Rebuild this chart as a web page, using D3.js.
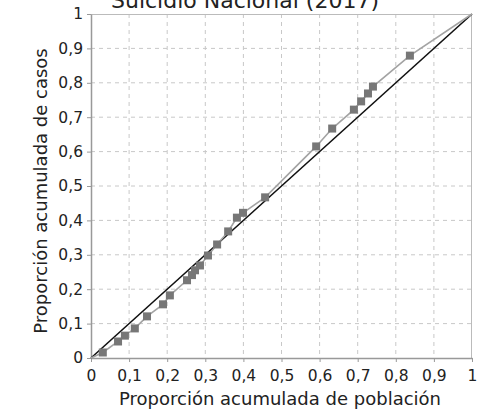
<!DOCTYPE html>
<html>
<head>
<meta charset="utf-8">
<script src="https://d3js.org/d3.v7.min.js"></script>
<style>
  body { margin: 0; background: #fff; }
  svg text { font-family: "DejaVu Sans", Verdana, sans-serif; fill: #222; }
</style>
</head>
<body>
<script>
// cumulative proportion of population (x) and of cases (y)
var popCum  = [0, 0.031, 0.071, 0.089, 0.115, 0.147, 0.189, 0.207, 0.252, 0.265, 0.273, 0.286, 0.307, 0.331, 0.360, 0.383, 0.399, 0.457, 0.591, 0.633, 0.690, 0.709, 0.727, 0.740, 0.837, 1];
var caseCum = [0, 0.016, 0.048, 0.065, 0.086, 0.121, 0.156, 0.182, 0.226, 0.241, 0.255, 0.269, 0.298, 0.330, 0.368, 0.408, 0.422, 0.467, 0.615, 0.667, 0.722, 0.746, 0.769, 0.789, 0.879, 1];
var tickVals = [0, 0.1, 0.2, 0.3, 0.4, 0.5, 0.6, 0.7, 0.8, 0.9, 1];
var titleText = "Suicidio Nacional (2017)";

var W = 488, H = 413;
var margin = { top: 14, right: 16, bottom: 55, left: 91 };
var width = W - margin.left - margin.right,
    height = H - margin.top - margin.bottom;

var svg = d3.select("body").append("svg")
  .attr("width", W).attr("height", H);

var x = d3.scaleLinear().domain([0, 1]).range([0, width]);
var y = d3.scaleLinear().domain([0, 1]).range([height, 0]);

var fmt = function(d){ return d3.format("~g")(d).replace(".", ","); };

var g = svg.append("g")
  .attr("transform", "translate(" + margin.left + "," + margin.top + ")");

// grid
g.append("g").selectAll("line").data(tickVals.slice(1, -1)).enter().append("line")
  .attr("x1", function(d){ return x(d); }).attr("x2", function(d){ return x(d); })
  .attr("y1", 0).attr("y2", height)
  .attr("stroke", "#c8c8c8").attr("stroke-dasharray", "4,4");
g.append("g").selectAll("line").data(tickVals.slice(1, -1)).enter().append("line")
  .attr("y1", function(d){ return y(d); }).attr("y2", function(d){ return y(d); })
  .attr("x1", 0).attr("x2", width)
  .attr("stroke", "#c8c8c8").attr("stroke-dasharray", "4,4");

// frame (top / right)
g.append("path")
  .attr("d", "M0,0.5H" + (width - 0.5) + "V" + height)
  .attr("fill", "none").attr("stroke", "#bbb");

// axes
var xAxis = g.append("g")
  .attr("transform", "translate(0," + height + ")")
  .call(d3.axisBottom(x).tickValues(tickVals).tickFormat(fmt).tickSize(4).tickSizeOuter(0));
var yAxis = g.append("g")
  .call(d3.axisLeft(y).tickValues(tickVals).tickFormat(fmt).tickSize(4).tickSizeOuter(0));
[xAxis, yAxis].forEach(function(a){
  a.attr("font-size", null);
  a.select(".domain").attr("stroke", "#999").attr("stroke-width", 1.5);
  a.selectAll(".tick line").attr("stroke", "#999");
  a.selectAll(".tick text").style("font-size", "15.5px").attr("fill", "#222")
    .attr("font-family", "DejaVu Sans, sans-serif");
});
xAxis.selectAll(".tick text").attr("y", 8).attr("dy", "0.95em");
yAxis.selectAll(".tick text").attr("x", -8);

// equality line
g.append("line")
  .attr("x1", x(0)).attr("y1", y(0)).attr("x2", x(1)).attr("y2", y(1))
  .attr("stroke", "#111").attr("stroke-width", 1.6);

// concentration curve
var pts = popCum.map(function(v, i){ return [v, caseCum[i]]; });
g.append("path").datum(pts)
  .attr("fill", "none").attr("stroke", "#a3a3a3").attr("stroke-width", 1.6)
  .attr("d", d3.line().x(function(d){ return x(d[0]); }).y(function(d){ return y(d[1]); }));

g.append("g").selectAll("rect").data(pts.slice(1, -1)).enter().append("rect")
  .attr("x", function(d){ return x(d[0]) - 4; })
  .attr("y", function(d){ return y(d[1]) - 4; })
  .attr("width", 8).attr("height", 8)
  .attr("fill", "#777");

// titles
svg.append("text")
  .attr("x", 245).attr("y", 8)
  .attr("text-anchor", "middle").attr("font-size", 22)
  .text(titleText);

svg.append("text")
  .attr("x", 280).attr("y", 405)
  .attr("text-anchor", "middle").attr("font-size", 18)
  .text("Proporción acumulada de población");

svg.append("text")
  .attr("transform", "translate(47,191) rotate(-90)")
  .attr("text-anchor", "middle").attr("font-size", 18)
  .text("Proporción acumulada de casos");
</script>
</body>
</html>
